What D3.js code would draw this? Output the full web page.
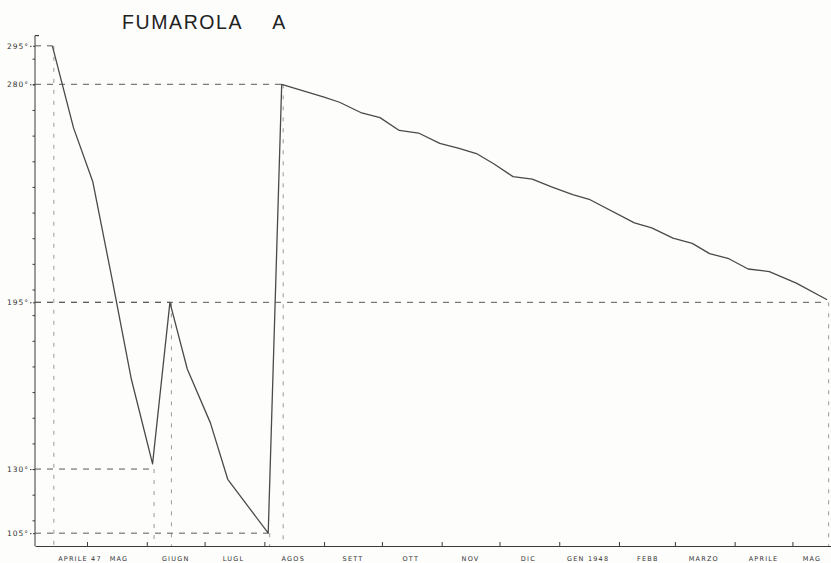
<!DOCTYPE html>
<html>
<head>
<meta charset="utf-8">
<script src="https://cdn.jsdelivr.net/npm/d3@7/dist/d3.min.js"></script>
<style>
  body { margin: 0; background: #fdfdfc; }
  svg { display: block; }
</style>
</head>
<body>
<div id="chart"></div>
<script>
// readings (temperature, degrees)
const readingDates = [
  "1947-04-13", "1947-04-24", "1947-05-04", "1947-05-14", "1947-05-24",
  "1947-06-04", "1947-06-13", "1947-06-22", "1947-07-04", "1947-07-13",
  "1947-08-03", "1947-08-10",
  "1947-09-01", "1947-09-09", "1947-09-20", "1947-09-30", "1947-10-10",
  "1947-10-20", "1947-10-31", "1947-11-10", "1947-11-19", "1947-11-28",
  "1947-12-08", "1947-12-18", "1947-12-28", "1948-01-08", "1948-01-17",
  "1948-02-09", "1948-02-18", "1948-02-29", "1948-03-10", "1948-03-19",
  "1948-03-29", "1948-04-08", "1948-04-19", "1948-05-03", "1948-05-19"
];
const readingTemps = [
  295, 263, 242, 204, 165,
  132, 195, 169, 148, 126,
  105, 280,
  275, 273, 269, 267, 262,
  261, 257, 255, 253, 249,
  244, 243, 240, 237, 235,
  226, 224, 220, 218, 214,
  212, 208, 207, 202.5, 196
];

// marked readings, joined to the axes by dashed lines
const guideDates = ["1947-04-13", "1947-08-10", "1947-06-13", "1948-05-19", "1947-06-04", "1947-08-03"];
const guideTemps = [295, 280, 195, 195, 130, 105];

// axis labels
const tempTicks = [295, 280, 195, 130, 105];
const monthLabels = [
  "APRILE 47", "MAG", "GIUGN", "LUGL", "AGOS", "SETT", "OTT",
  "NOV", "DIC", "GEN 1948", "FEBB", "MARZO", "APRILE", "MAG"
];

const W = 831, H = 563;
const margin = {top: 33, right: 0, bottom: 17, left: 35};
const parse = d3.timeParse("%Y-%m-%d");
const ink = "#3a3a3a";

const x = d3.scaleTime()
  .domain([new Date(1947, 3, 4), new Date(1948, 4, 21)])
  .range([margin.left, W - margin.right]);

const y = d3.scaleLinear()
  .domain([100, 300])
  .range([H - margin.bottom, margin.top]);

const data = readingDates.map((d, i) => ({date: parse(d), temp: readingTemps[i]}));
const guides = guideDates.map((d, i) => ({date: parse(d), temp: guideTemps[i]}));

const svg = d3.select("#chart").append("svg")
  .attr("width", W)
  .attr("height", H)
  .style("background", "#fdfdfc");

const baseY = y(100);

// dashed guides
const g = svg.append("g").attr("fill", "none");

g.selectAll("line.v")
  .data(guides)
  .enter().append("line")
    .attr("class", "v")
    .attr("x1", d => x(d.date) + 1.5)
    .attr("x2", d => x(d.date) + 1.5)
    .attr("y1", d => y(d.temp))
    .attr("y2", baseY)
    .attr("stroke", "#999")
    .attr("stroke-width", 1)
    .attr("stroke-dasharray", "4,7");

g.selectAll("line.h")
  .data(guides)
  .enter().append("line")
    .attr("class", "h")
    .attr("x1", margin.left)
    .attr("x2", d => x(d.date))
    .attr("y1", d => y(d.temp))
    .attr("y2", d => y(d.temp))
    .attr("stroke", "#5a5a5a")
    .attr("stroke-width", 1)
    .attr("stroke-dasharray", "6,6");

// left axis: labelled values + 10 degree marks
const yAxis = d3.axisLeft(y)
  .tickValues(tempTicks)
  .tickSize(5)
  .tickSizeOuter(0)
  .tickFormat(d => d + "°");

svg.append("g")
    .attr("transform", `translate(${margin.left},0)`)
    .call(yAxis)
    .call(g => g.select(".domain")
      .attr("d", `M0,${y(299)}V${baseY}`)
      .attr("stroke", ink))
    .call(g => g.selectAll(".tick line").attr("stroke", ink).attr("stroke-dasharray", "2,1.5"))
    .call(g => g.selectAll("text")
      .attr("x", -6)
      .attr("fill", "#333")
      .style("font", "7.5px 'DejaVu Sans'")
      .style("letter-spacing", "1px"));

svg.append("g")
    .attr("transform", `translate(${margin.left},0)`)
    .call(d3.axisLeft(y).tickValues(d3.range(110, 300, 10)).tickSize(2.5).tickFormat(""))
    .call(g => g.select(".domain").remove())
    .call(g => g.selectAll(".tick line").attr("stroke", ink));

// small hook on top of the left axis
svg.append("path")
  .attr("d", `M${margin.left},${y(299)}h4`)
  .attr("stroke", ink)
  .attr("stroke-width", 1.2);

// bottom axis with month marks
const xAxis = d3.axisBottom(x)
  .tickValues(d3.timeMonth.range(new Date(1947, 4, 1), new Date(1948, 4, 21)))
  .tickSize(-4)
  .tickSizeOuter(0)
  .tickFormat("");

svg.append("g")
    .attr("transform", `translate(0,${baseY})`)
    .call(xAxis)
    .call(g => g.select(".domain").attr("stroke", ink).attr("stroke-width", 1.1))
    .call(g => g.selectAll(".tick line").attr("stroke", ink));

svg.append("g")
    .attr("fill", "#333")
    .style("font", "6.5px 'DejaVu Sans'")
    .style("letter-spacing", "1.2px")
  .selectAll("text")
  .data(monthLabels)
  .enter().append("text")
    .attr("x", (d, i) => x(new Date(1947, 3 + i, 16)))
    .attr("y", H - 2)
    .attr("text-anchor", (d, i) => i === 0 ? "start" : (i === monthLabels.length - 1 ? "end" : "middle"))
    .attr("dx", (d, i) => i === 1 ? 3 : 0)
    .text(d => d);

// temperature curve
const line = d3.line()
  .x(d => x(d.date))
  .y(d => y(d.temp));

svg.append("path")
  .datum(data)
  .attr("fill", "none")
  .attr("stroke", "#4a4a4a")
  .attr("stroke-width", 1.3)
  .attr("stroke-linejoin", "round")
  .attr("d", line);

// title
svg.append("text")
    .attr("x", 122)
    .attr("y", 28.5)
    .attr("fill", "#222")
    .style("font", "19.5px 'Liberation Sans'")
    .style("letter-spacing", "1.6px")
    .text("FUMAROLA")
  .append("tspan")
    .attr("dx", 29)
    .text("A");
</script>
</body>
</html>
